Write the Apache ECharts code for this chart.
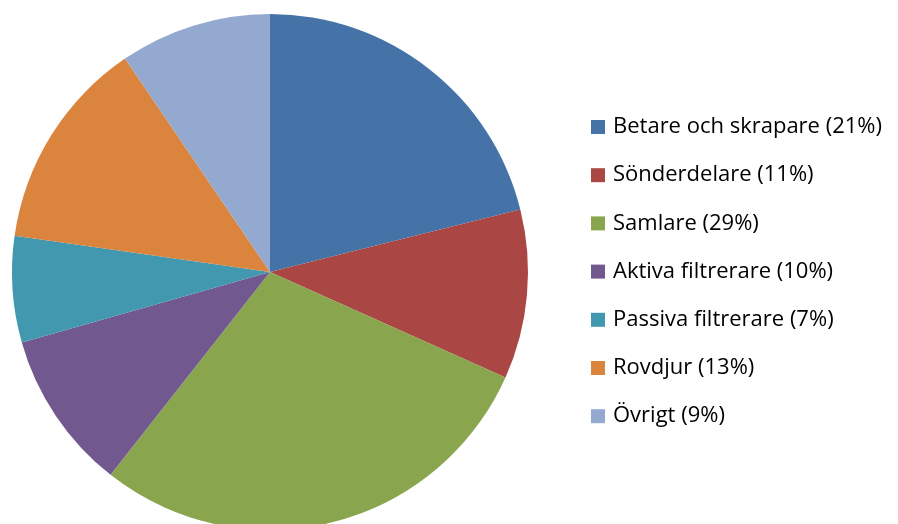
<!DOCTYPE html>
<html>
<head>
<meta charset="utf-8">
<script src="https://cdn.jsdelivr.net/npm/echarts@6/dist/echarts.min.js"></script>
<style>
  html, body { margin: 0; padding: 0; background: #fff; }
  #main { width: 898px; height: 524px; }
</style>
</head>
<body>
<div id="main"></div>
<script>
// categories and the rounded shares printed in the legend
var categories = ['Betare och skrapare', 'Sönderdelare', 'Samlare', 'Aktiva filtrerare', 'Passiva filtrerare', 'Rovdjur', 'Övrigt'];
var shareLabels = [21, 11, 29, 10, 7, 13, 9];
// slice sizes (%)
var sliceValues = [21.1, 10.6, 28.9, 10.0, 6.65, 13.25, 9.5];
var colors = ['#4572A7', '#AA4643', '#89A54E', '#71588F', '#4198AF', '#DB843D', '#93A9CF'];

var chart = echarts.init(document.getElementById('main'));

var option = {
    animation: false,
    color: colors,
    legend: {
        orient: 'vertical',
        left: 591,
        top: 116,
        padding: 0,
        itemWidth: 14,
        itemHeight: 14,
        itemGap: 26.2,
        icon: 'rect',
        textStyle: {
            fontFamily: 'Open Sans',
            fontSize: 22,
            color: '#000',
            padding: [0, 0, 0, 3]
        },
        formatter: function (name) {
            return name + ' (' + shareLabels[categories.indexOf(name)] + '%)';
        }
    },
    series: [{
        type: 'pie',
        center: [270, 272],
        radius: 258,
        startAngle: 90,
        clockwise: true,
        label: { show: false },
        labelLine: { show: false },
        emphasis: { disabled: true },
        itemStyle: { borderWidth: 0 },
        data: categories.map(function (c, i) {
            return { name: c, value: sliceValues[i] };
        })
    }]
};
chart.setOption(option);
</script>
</body>
</html>
